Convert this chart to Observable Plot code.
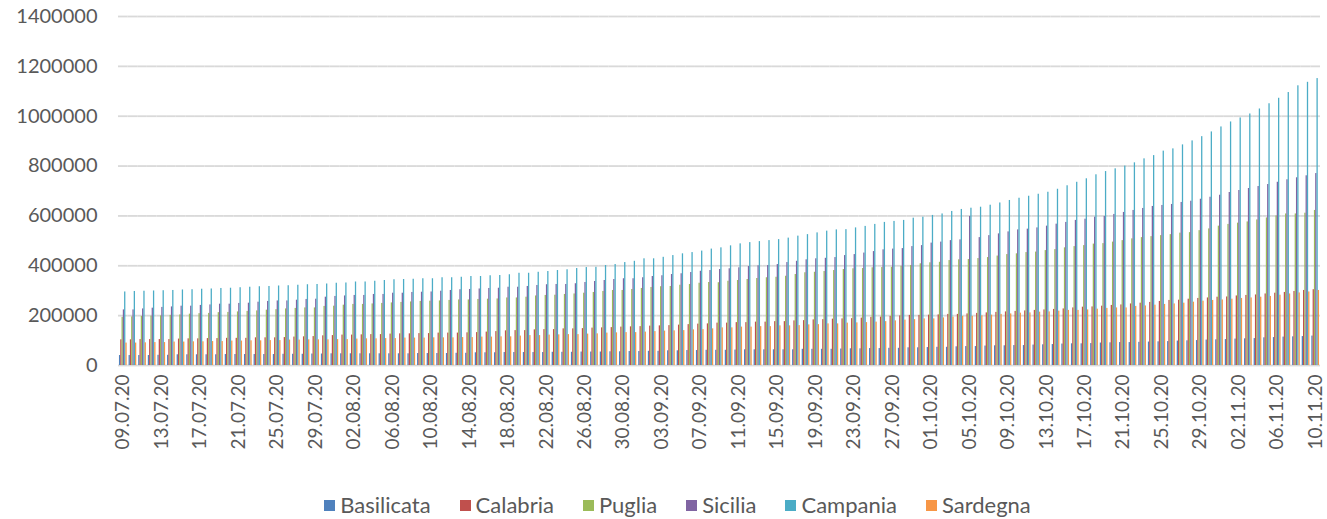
<!DOCTYPE html>
<html><head><meta charset="utf-8">
<script src="https://cdn.jsdelivr.net/npm/d3@7"></script>
<script src="https://cdn.jsdelivr.net/npm/@observablehq/plot@0.6"></script>
<style>
html,body{margin:0;padding:0;background:#fff;}
#chart{width:1327px;height:519px;position:relative;font-family:Lato,sans-serif;overflow:hidden;}
#chart svg [aria-label^="y-axis"]{font-size:20px;}
#chart svg [aria-label^="fx-axis"]{font-size:19px;}
.legend{position:absolute;left:14px;top:493px;width:1327px;display:flex;justify-content:center;gap:29px;font-size:22px;line-height:24px;color:#595959;font-family:Lato,sans-serif;}
.legend .item{display:flex;align-items:center;}
.legend i{display:inline-block;width:11px;height:11px;margin-right:5px;}
</style></head>
<body><div id="chart"></div>
<script>
// Series names and colours
const series = ["Basilicata","Calabria","Puglia","Sicilia","Campania","Sardegna"];
const colors = ["#4F81BD","#C0504D","#9BBB59","#8064A2","#4BACC6","#F79646"];

// Categories: daily dates 09.07.20 .. 10.11.20
const dates = d3.utcDay.range(new Date("2020-07-09T00:00Z"), new Date("2020-11-11T00:00Z")).map(d3.utcFormat("%d.%m.%y"));
// Tick labels shown on the axis (every 4th day)
const tickLabels = ["09.07.20","13.07.20","17.07.20","21.07.20","25.07.20","29.07.20","02.08.20","06.08.20","10.08.20","14.08.20","18.08.20","22.08.20","26.08.20","30.08.20","03.09.20","07.09.20","11.09.20","15.09.20","19.09.20","23.09.20","27.09.20","01.10.20","05.10.20","09.10.20","13.10.20","17.10.20","21.10.20","25.10.20","29.10.20","02.11.20","06.11.20","10.11.20"];
const yTicks = [0,200000,400000,600000,800000,1000000,1200000,1400000];

// Values, in thousands
const basilicataK = [40,40,40,40,41,41,43,43,43,43,43,44,44,44,44,44,44,45,45,45,
46,46,47,47,47,47,47,47,47,47,47,48,48,48,48,49,49,51,51,51,52,
52,52,52,52,53,53,53,54,54,54,55,55,56,56,57,57,59,59,60,60,61,
61,61,62,63,63,63,63,63,63,65,65,65,65,66,67,67,68,68,69,69,71,
71,72,73,73,75,76,76,78,79,79,80,80,82,83,84,86,87,87,88,90,91,
92,92,93,94,95,96,98,99,100,102,103,104,106,107,108,111,112,114,115,116,118];
const calabriaK = [103,103,104,104,104,104,106,107,107,108,108,109,109,109,111,111,111,112,114,115,
116,119,120,122,122,123,124,124,126,127,127,128,128,130,130,130,131,132,134,136,139,
140,140,143,144,144,147,147,148,150,151,152,154,155,156,158,159,160,162,164,166,167,
170,170,172,172,174,174,176,176,179,180,183,184,186,187,188,190,193,194,197,199,201,
201,202,203,205,205,207,209,211,213,215,217,219,221,223,225,227,231,234,235,238,241,
243,247,250,253,257,261,262,266,269,271,274,275,279,281,283,287,290,293,297,301,304];
const pugliaK = [193,195,197,198,199,201,203,206,208,209,212,213,215,217,219,222,224,227,229,231,
231,237,238,242,245,245,247,249,251,253,255,257,258,259,261,263,263,265,266,267,271,
271,274,279,281,282,285,287,290,293,297,301,301,305,309,313,316,317,322,325,330,333,
332,338,341,345,349,352,354,358,365,372,374,377,381,385,388,389,392,393,394,398,401,
408,412,414,421,424,425,429,433,439,445,448,453,455,461,465,472,477,481,487,489,495,
501,508,513,517,521,525,531,533,541,548,559,566,571,576,584,592,600,608,608,611,622];
const siciliaK = [223,223,227,230,233,235,238,238,241,243,246,246,249,250,254,257,259,259,262,265,
266,274,277,279,281,281,285,285,290,290,293,294,295,298,301,304,305,307,309,310,314,
314,317,321,324,325,325,328,333,337,341,345,348,348,352,357,360,365,368,373,378,381,
385,388,392,397,400,401,405,413,418,424,428,430,433,441,445,451,457,464,467,469,477,
481,491,495,501,504,598,513,521,528,536,544,547,552,559,567,574,582,587,595,598,
606,614,622,630,638,642,646,654,659,667,675,683,694,702,710,718,726,735,745,753,761,770];
const campaniaK = [295,297,298,299,300,301,303,304,306,307,309,310,312,314,316,317,319,320,322,324,
325,327,330,331,335,335,338,341,344,345,346,348,348,352,352,354,357,357,360,361,364,
370,370,374,377,381,384,389,393,394,401,405,413,418,428,428,434,441,448,453,459,467,
472,480,488,493,497,501,505,511,519,525,532,539,544,545,552,558,566,574,578,582,591,
595,602,608,618,626,631,635,643,652,662,671,679,687,695,707,721,735,749,765,778,
789,800,813,829,842,860,869,885,901,918,937,957,977,993,1009,1029,1050,1072,1095,1122,1136,1151];
const sardegnaK = [90,90,91,92,92,94,94,95,95,96,96,98,98,99,99,100,100,102,102,103,
103,103,104,104,106,107,107,108,108,110,110,110,111,111,111,112,112,114,114,115,115,
118,120,120,122,123,124,124,126,127,130,131,132,132,134,136,138,139,140,143,144,147,
151,151,154,154,156,156,159,159,160,163,164,167,167,170,171,172,174,176,179,182,184,
187,187,191,194,197,197,199,202,205,207,210,211,214,215,218,221,221,223,226,229,
231,231,237,239,242,245,247,250,254,258,261,263,266,269,271,274,277,282,287,291,295,301];

const valuesK = [basilicataK, calabriaK, pugliaK, siciliaK, campaniaK, sardegnaK];
const rows = [];
dates.forEach((date, i) => series.forEach((s, j) => rows.push({date, series: s, value: valuesK[j][i] * 1000})));
const tickSet = new Set(tickLabels);

const plot = Plot.plot({
  width: 1327, height: 455,
  marginLeft: 118, marginRight: 7, marginTop: 16, marginBottom: 90,
  style: {fontFamily: "Lato, sans-serif", fontSize: "19px", color: "#595959", background: "#fff", overflow: "visible"},
  facet: {data: rows, x: "date", label: null},
  fx: {domain: dates, padding: 0, round: false, tickFormat: d => tickSet.has(d) ? d : "", tickRotate: -90, tickSize: 0, tickPadding: 9, label: null},
  x: {domain: series, paddingInner: 0, paddingOuter: 0.75, round: false, axis: null},
  y: {domain: [0, 1400000], ticks: yTicks, tickFormat: d3.format("d"), tickSize: 0, tickPadding: 21, label: null},
  color: {domain: series, range: colors},
  marks: [
    Plot.ruleY(yTicks, {stroke: "#d9d9d9", strokeWidth: 1.8}),
    Plot.barY(rows, {x: "series", y: "value", fill: "series"})
  ]
});
const chart = document.getElementById("chart");
chart.appendChild(plot);

const legend = document.createElement("div");
legend.className = "legend";
series.forEach((s, j) => {
  const item = document.createElement("span");
  item.className = "item";
  const sw = document.createElement("i");
  sw.style.background = colors[j];
  item.appendChild(sw);
  item.appendChild(document.createTextNode(s));
  legend.appendChild(item);
});
chart.appendChild(legend);
</script>
</body></html>
